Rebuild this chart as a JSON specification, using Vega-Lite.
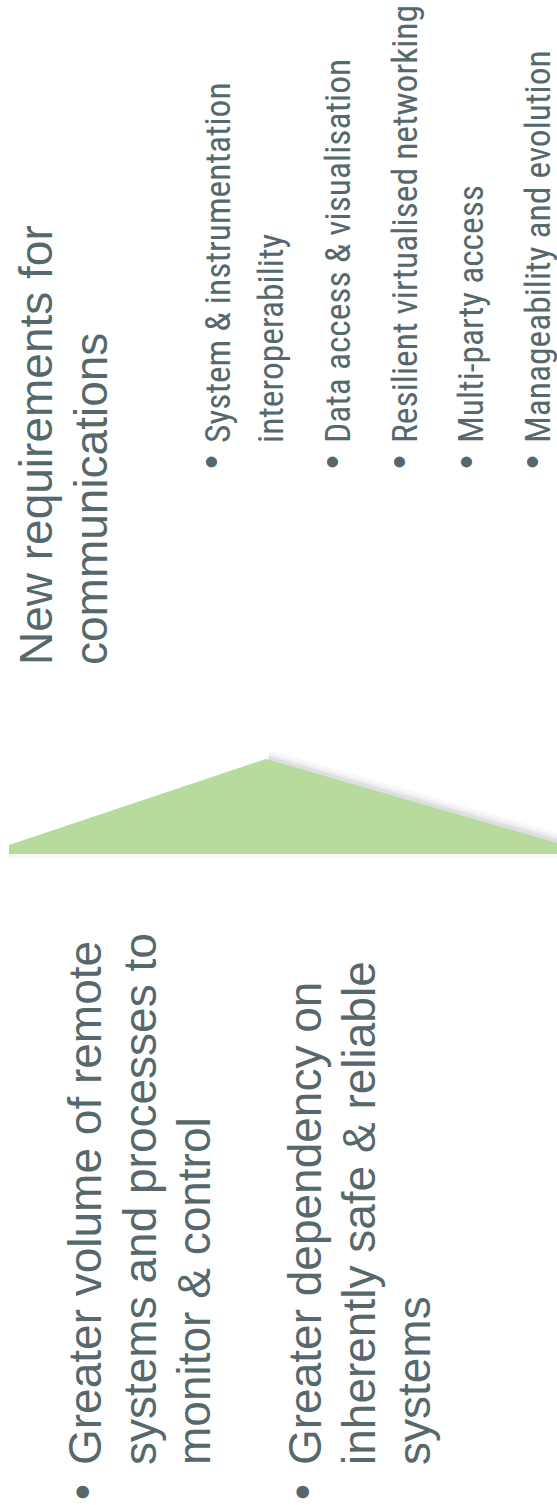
{
  "$schema": "https://vega.github.io/schema/vega-lite/v6.json",
  "width": 557,
  "height": 1505,
  "padding": 0,
  "autosize": {"type": "none"},
  "background": "#ffffff",
  "config": {"view": {"stroke": null}},
  "datasets": {
    "shape": [
      {"px": 9, "top": 845, "base": 854},
      {"px": 266, "top": 759, "base": 854},
      {"px": 557, "top": 843, "base": 854}
    ],
    "shadow": [
      {"px": 268, "py": 759},
      {"px": 557, "py": 842}
    ],
    "bottomshadow": [
      {"px": 9, "py": 856},
      {"px": 557, "py": 856}
    ],
    "normal": [
      {"label": "Greater volume of remote", "px": 101, "py": 1465},
      {"label": "systems and processes to", "px": 156, "py": 1465},
      {"label": "monitor & control", "px": 210, "py": 1465},
      {"label": "Greater dependency on", "px": 321, "py": 1465},
      {"label": "inherently safe & reliable", "px": 375, "py": 1465},
      {"label": "systems", "px": 430, "py": 1465},
      {"label": "New requirements for", "px": 52, "py": 665},
      {"label": "communications", "px": 107, "py": 665}
    ],
    "narrow": [
      {"label": "System & instrumentation", "px": 230, "py": 443},
      {"label": "interoperability", "px": 283, "py": 443},
      {"label": "Data access & visualisation", "px": 350, "py": 443},
      {"label": "Resilient virtualised networking", "px": 417, "py": 443},
      {"label": "Multi-party access", "px": 483, "py": 443},
      {"label": "Manageability and evolution", "px": 550, "py": 443}
    ],
    "bulletsL": [
      {"label": "•", "px": 84, "py": 1492},
      {"label": "•", "px": 304, "py": 1492}
    ],
    "bulletsR": [
      {"label": "•", "px": 213, "py": 462},
      {"label": "•", "px": 334, "py": 462},
      {"label": "•", "px": 401, "py": 462},
      {"label": "•", "px": 468, "py": 462},
      {"label": "•", "px": 534, "py": 462}
    ]
  },
  "layer": [
    {
      "data": {"name": "bottomshadow"},
      "mark": {"type": "line", "color": "#000000", "opacity": 0.035, "strokeWidth": 4},
      "encoding": {
        "x": {"field": "px", "type": "quantitative", "scale": {"domain": [0, 557], "nice": false, "zero": false}, "axis": null},
        "y": {"field": "py", "type": "quantitative", "scale": {"domain": [0, 1505], "reverse": true, "nice": false, "zero": false}, "axis": null}
      }
    },
    {
      "data": {"name": "shadow"},
      "mark": {"type": "line", "color": "#000000", "opacity": 0.03, "strokeWidth": 18},
      "encoding": {"x": {"field": "px", "type": "quantitative"}, "y": {"field": "py", "type": "quantitative"}}
    },
    {
      "data": {"name": "shadow"},
      "mark": {"type": "line", "color": "#000000", "opacity": 0.04, "strokeWidth": 11},
      "encoding": {"x": {"field": "px", "type": "quantitative"}, "y": {"field": "py", "type": "quantitative"}}
    },
    {
      "data": {"name": "shadow"},
      "mark": {"type": "line", "color": "#000000", "opacity": 0.06, "strokeWidth": 6},
      "encoding": {"x": {"field": "px", "type": "quantitative"}, "y": {"field": "py", "type": "quantitative"}}
    },
    {
      "data": {"name": "shape"},
      "mark": {"type": "area", "color": "#b7da9d", "opacity": 1},
      "encoding": {
        "x": {"field": "px", "type": "quantitative"},
        "y": {"field": "top", "type": "quantitative"},
        "y2": {"field": "base"}
      }
    },
    {
      "data": {"name": "normal"},
      "mark": {"type": "text", "angle": 270, "align": "left", "baseline": "alphabetic", "font": "Liberation Sans", "fontSize": 46, "color": "#56686b"},
      "encoding": {"x": {"field": "px", "type": "quantitative"}, "y": {"field": "py", "type": "quantitative"}, "text": {"field": "label"}}
    },
    {
      "data": {"name": "narrow"},
      "mark": {"type": "text", "angle": 270, "align": "left", "baseline": "alphabetic", "font": "Roboto Condensed, Liberation Sans", "fontSize": 35.5, "color": "#56686b"},
      "encoding": {"x": {"field": "px", "type": "quantitative"}, "y": {"field": "py", "type": "quantitative"}, "text": {"field": "label"}}
    },
    {
      "data": {"name": "bulletsL"},
      "mark": {"type": "text", "angle": 270, "align": "center", "baseline": "middle", "font": "Liberation Sans", "fontSize": 46, "color": "#56686b"},
      "encoding": {"x": {"field": "px", "type": "quantitative"}, "y": {"field": "py", "type": "quantitative"}, "text": {"field": "label"}}
    },
    {
      "data": {"name": "bulletsR"},
      "mark": {"type": "text", "angle": 270, "align": "center", "baseline": "middle", "font": "Liberation Sans", "fontSize": 40, "color": "#56686b"},
      "encoding": {"x": {"field": "px", "type": "quantitative"}, "y": {"field": "py", "type": "quantitative"}, "text": {"field": "label"}}
    }
  ]
}
